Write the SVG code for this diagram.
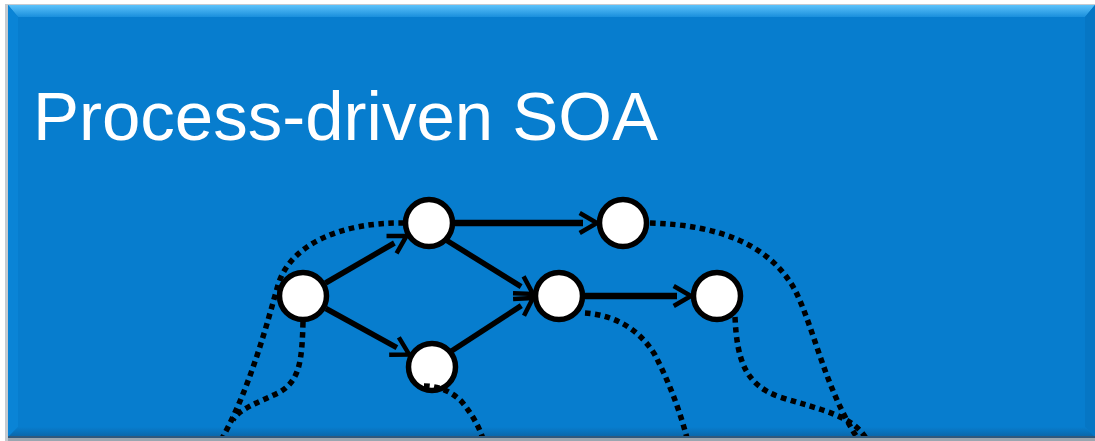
<svg xmlns="http://www.w3.org/2000/svg" width="1095" height="441" viewBox="0 0 1095 441">
<defs>
<style>
.node{fill:#fff;stroke:#000;stroke-width:5.5}
.arrow{fill:none;stroke:#000;stroke-width:5.5;marker-end:url(#ah)}
.dot{fill:none;stroke:#000;stroke-width:5.5;stroke-dasharray:5.5 4.5}
.title{font-family:"Liberation Sans",Arial,sans-serif;font-size:69px;fill:#fff}
</style>
<marker id="ah" markerUnits="userSpaceOnUse" viewBox="-22 -13 26 26" markerWidth="26" markerHeight="26" refX="-14" refY="0" orient="auto">
<path d="M-17.3,-10 L0,0 L-17.3,10" fill="none" stroke="#000" stroke-width="4.5"/>
</marker>
<linearGradient id="topb" x1="0" y1="0" x2="0" y2="1">
<stop offset="0" stop-color="#5cc2fa"/>
<stop offset="1" stop-color="#1a8fdc"/>
</linearGradient>
<linearGradient id="botb" x1="0" y1="0" x2="0" y2="1">
<stop offset="0" stop-color="#077dce"/>
<stop offset="1" stop-color="#0a66a8"/>
</linearGradient>
<clipPath id="panelclip"><rect x="8" y="5" width="1087" height="431"/></clipPath>
</defs>
<rect width="1095" height="441" fill="#fff"/>
<g id="panel">
<rect x="5" y="4" width="1090" height="437" fill="#c4cad0"/>
<rect x="8" y="5" width="1087" height="432" fill="#077dce"/>
<polygon points="8,5 1095,5 1085,17 18,17" fill="url(#topb)"/>
<polygon points="8,5 18,17 18,427 8,437" fill="#0a84d6"/>
<polygon points="1095,5 1085,17 1085,427 1095,437" fill="#0676c4"/>
<polygon points="8,437 18,427 1085,427 1095,437" fill="url(#botb)"/>
<rect x="8" y="436" width="1087" height="2" fill="#30597c"/>
<rect x="8" y="438" width="1087" height="3" fill="#9aa6b0"/>
</g>
<g id="title"><text class="title" x="33" y="140">Process-driven SOA</text></g>
<g id="nodes">
<g id="nA"><circle class="node" cx="303" cy="296" r="23.5"/></g>
<g id="nB"><circle class="node" cx="429" cy="223" r="23.5"/></g>
<g id="nC"><circle class="node" cx="432" cy="367" r="23.5"/></g>
<g id="nD"><circle class="node" cx="559" cy="296" r="23.5"/></g>
<g id="nE"><circle class="node" cx="623" cy="223" r="23.5"/></g>
<g id="nF"><circle class="node" cx="717" cy="296" r="23.5"/></g>
</g>
<g id="connectors" clip-path="url(#panelclip)">
<path class="arrow" d="M325.5,283 L394.4,243"/>
<path class="arrow" d="M325.8,308.5 L396.9,347.7"/>
<path class="arrow" d="M446,240 L521.1,286.6"/>
<path class="arrow" d="M450,352 L521.3,305.6"/>
<path class="arrow" style="stroke-width:6.5" d="M455,223 L583,223"/>
<path class="arrow" style="stroke-width:6.5" d="M585,296 L677,296"/>
<path class="dot" d="M404,223 C340,222 290,245 278,285 C268,320 250,390 220,442"/>
<path class="dot" d="M303,322 C302,360 300,380 280,392 C260,402 240,408 233,420"/>
<path class="dot" d="M424,386 C440,386 452,392 462,402 C472,414 480,428 484,442"/>
<path class="dot" d="M585,313 C615,315 640,330 655,355 C668,380 680,410 688,442"/>
<path class="dot" d="M735,317 C737,360 745,385 780,397 C820,410 855,415 868,442"/>
<path class="dot" d="M650,223 C720,225 770,245 795,290 C815,330 825,390 860,442"/>
</g>
</svg>
